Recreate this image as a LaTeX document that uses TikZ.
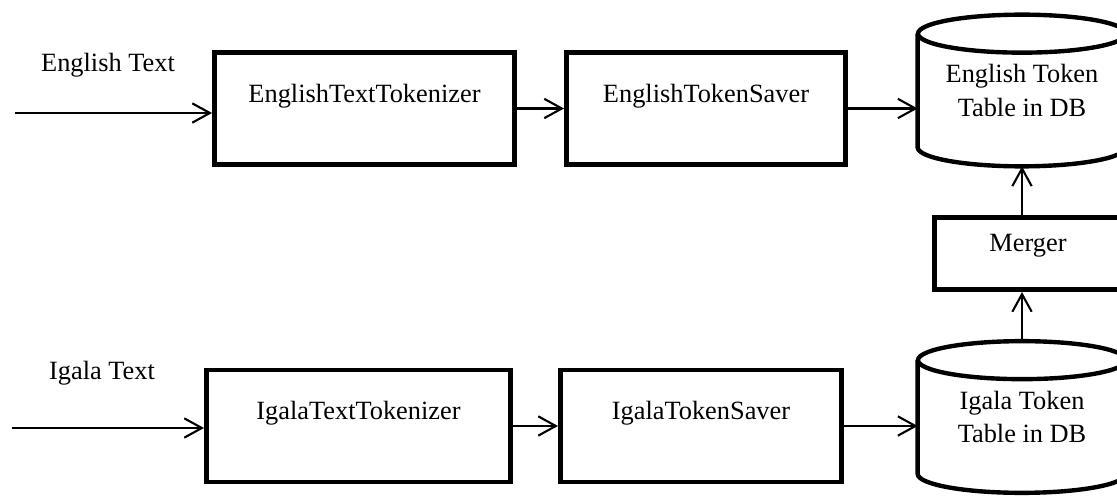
\documentclass[tikz,border=0pt]{standalone}
\usepackage{fontspec}
\setmainfont{Liberation Serif}
\usetikzlibrary{shapes,arrows.meta,positioning}
\tikzset{tool node/.style={rectangle, draw, line width=2.8pt,
    minimum height=22.4mm, text height=10pt, text depth=17pt,
    font=\fontsize{15}{19}\selectfont}}
\tikzset{table node/.style={rectangle, minimum width=41.6mm, minimum height=30.2mm,
    align=center, font=\fontsize{15}{19}\selectfont}}
\tikzset{table edge/.style={draw, line width=2.5pt}}
\tikzset{text label/.style={font=\fontsize{15}{19}\selectfont}}
\tikzset{flow edge/.style={draw, line width=1.2pt,
    -{Straight Barb[length=10pt, width=11pt]}}}
% outline of a database table drawn round a table node
\newcommand{\tableoutline}[1]{%
  \draw [table edge] ([yshift=-3.8mm]#1.north west) -- ([yshift=3.8mm]#1.south west)
    arc [start angle=180, end angle=360, x radius=20.8mm, y radius=3.8mm]
    -- ([yshift=-3.8mm]#1.north east);
  \draw [table edge] ([yshift=-3.8mm]#1.north) ellipse [x radius=20.8mm, y radius=3.8mm];}

\begin{document}
\begin{tikzpicture}
      [x=0.2mm, y=-0.2mm]
      \path [use as bounding box] (0, 0) rectangle (1117, 499);
      \clip (0, 0) rectangle (1117, 499);

      % English side
      \node [text label]                           (elabel) at ( 108,  65) {English Text};
      \coordinate                                  (ein)    at (  15, 113);
      \node [tool node, minimum width=60mm]        (ett)    at ( 364.5, 108.5) {EnglishTextTokenizer};
      \node [tool node, minimum width=55.8mm]      (ets)    at ( 706, 108.5) {EnglishTokenSaver};
      \node [table node]                           (etable) at (1022,  90.5) {English Token\\Table in DB};
      \tableoutline{etable}

      % Igala side
      \node [text label]                           (ilabel) at ( 102, 373) {Igala Text};
      \coordinate                                  (iin)    at (  12, 428);
      \node [tool node, minimum width=60.8mm]      (itt)    at ( 358.5, 426) {IgalaTextTokenizer};
      \node [tool node, minimum width=56.2mm]      (its)    at ( 701, 426) {IgalaTokenSaver};
      \node [table node]                           (itable) at (1022, 417) {Igala Token\\Table in DB};
      \tableoutline{itable}

      \node [tool node, minimum width=37.4mm, minimum height=14.4mm, text depth=12pt]
                                                   (merger) at (1028, 253.5) {Merger};

      \draw [flow edge] (ein)          -- (ein -| ett.west);
      \draw [flow edge] (ett)          -- (ets);
      \draw [flow edge] (ets.east)     -- (ets.east -| etable.west);
      \draw [flow edge] (iin)          -- (iin -| itt.west);
      \draw [flow edge] (itt)          -- (its);
      \draw [flow edge] (its.east)     -- (its.east -| itable.west);
      \draw [flow edge] (itable.north) -- (itable.north |- merger.south);
      \draw [flow edge] (etable.south |- merger.north) -- (etable.south);
\end{tikzpicture}
\end{document}
